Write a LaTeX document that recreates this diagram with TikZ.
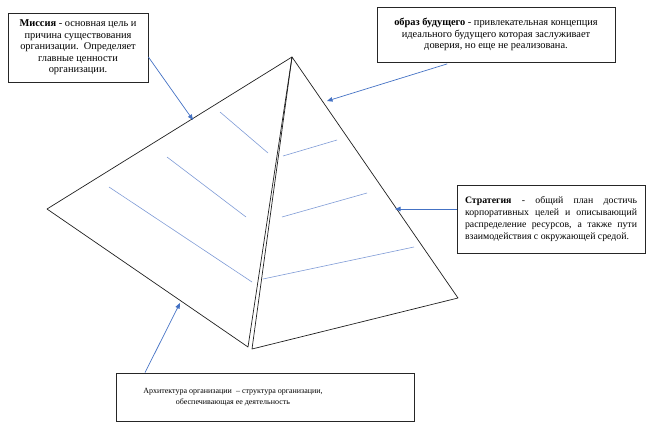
\documentclass[tikz,border=0pt]{standalone}
\usepackage{fontspec}
\setmainfont{Liberation Serif}
\usetikzlibrary{arrows.meta, calc}
\definecolor{arrowblue}{HTML}{4472C4}
\definecolor{hatch}{HTML}{7F9BD6}
\definecolor{edge}{rgb}{.12,.12,.12}
\tikzset{
    note/.style={draw=black!85, line width=0.8pt, fill=white, inner sep=0pt,
        font={\fontsize{10.4pt}{11.5pt}\selectfont}},
    pointer/.style={arrowblue, line width=0.7pt,
        -{Triangle[length=5.5pt,width=4.5pt]}},
    rib/.style={edge, line width=0.7pt, line join=round},
    hatchline/.style={hatch, line width=0.6pt},
    }

\begin{document}
\begin{tikzpicture}
    [x=1pt, y=-1pt]
    \useasboundingbox (0,0) rectangle (647,422);
    % pyramid corners
    \coordinate (top) at (292,57);
    \coordinate (left) at (47,209);
    \coordinate (footl) at (248,347);
    \coordinate (footr) at (252,349);
    \coordinate (right) at (458,298);
    \draw[rib] (top) -- (left) -- (footl) -- cycle;
    \draw[rib] (top) -- (footr) -- (right) -- cycle;
    % levels on both faces
    \foreach \s/\e in {{220,112}/{268,153}, {167,157}/{246,217},
                       {109,187}/{252,282}, {283,156}/{337,140},
                       {282,217}/{367,193}, {263,279}/{414,247}}
        \draw[hatchline] (\s) -- (\e);
    % text
    \node[note, minimum width=140pt, minimum height=69pt, align=center]
        (mission) at (78,47.5)
        {\textbf{Миссия} - основная цель и\\ причина существования\\
         организации.~~Определяет\\ главные ценности\\ организации.};
    \node[note, minimum width=238pt, minimum height=55pt, align=center]
        (vision) at (496,34.5)
        {\textbf{образ будущего} - привлекательная концепция\\
         идеального будущего которая заслуживает\\
         доверия, но еще не реализована.};
    \node[note, minimum height=68pt, text width=172pt, inner xsep=8pt,
          align=justify, font={\fontsize{9.8pt}{11.8pt}\selectfont}]
        (strategy) at (551,219)
        {\textbf{Стратегия} - общий план достичь\linebreak
         корпоративных целей и описывающий\linebreak
         распределение ресурсов, а также пути\linebreak
         взаимодействия с окружающей средой.};
    \node[note, minimum width=298pt, minimum height=48pt]
        (arch) at (265,397) {};
    \node[align=center, font={\fontsize{8pt}{11pt}\selectfont}]
        (archtext) at (233,397)
        {Архитектура организации~~– структура организации,\\
         обеспечивающая ее деятельность};
    % pointers
    \coordinate (missionpt) at (193,120);
    \coordinate (visionpt) at (327,101);
    \coordinate (strategypt) at (395,209);
    \coordinate (archpt) at (180,303);
    \draw[pointer] (mission.east |- 0,57) -- (missionpt);
    \draw[pointer, shorten <=5pt] (vision.south -| 452,0) -- (visionpt);
    \draw[pointer] (strategy.west |- 0,209) -- (strategypt);
    \draw[pointer] (arch.north -| 145,0) -- (archpt);
\end{tikzpicture}
\end{document}
